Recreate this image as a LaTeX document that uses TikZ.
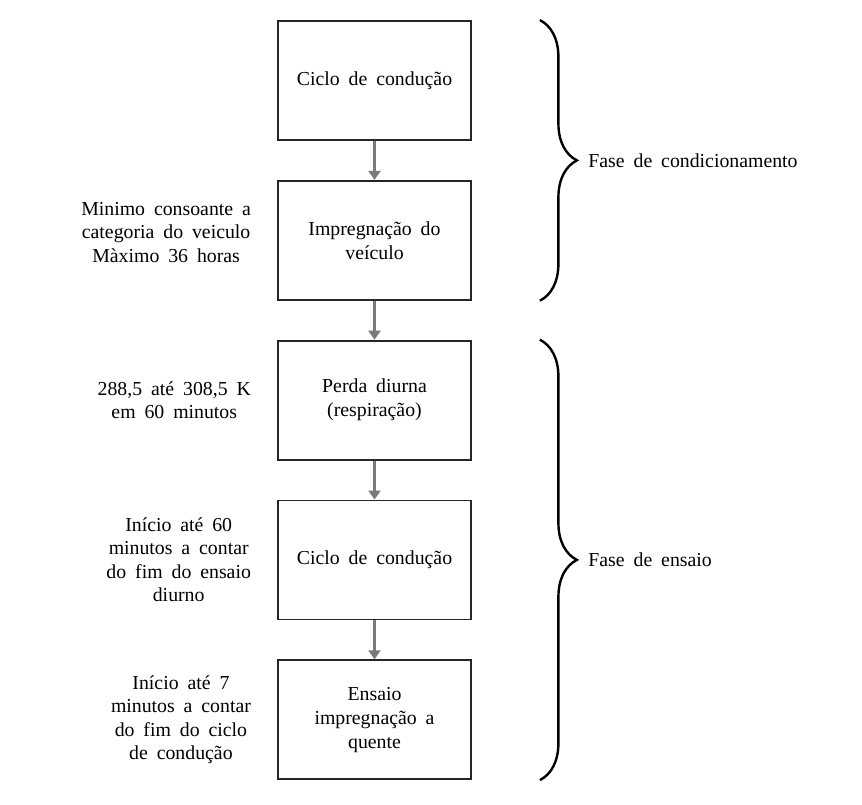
\documentclass[tikz,border=0pt]{standalone}
\usepackage{fontspec}
\setmainfont[WordSpace=1.8]{Liberation Serif}
\usetikzlibrary{arrows.meta,positioning,decorations.pathreplacing}
\definecolor{arrowgray}{HTML}{7A7A7A}
\definecolor{boxline}{HTML}{262626}

\begin{document}
\begin{tikzpicture}[
    x=1pt, y=-1pt,
    node distance=39pt and 26pt,
    stepbox/.style={
      draw=boxline,
      line width=1.8pt,
      minimum width=193pt,
      minimum height=119pt,
      align=center,
      font=\fontsize{19.8}{24}\selectfont
    },
    sidenote/.style={
      align=center,
      inner sep=0pt,
      font=\fontsize{19.8}{23.5}\selectfont
    },
    phase/.style={
      decorate,
      decoration={brace, amplitude=37pt},
      line width=2.4pt
    },
    arrow/.style={-{Triangle[length=9pt, width=12pt]}, line width=2.2pt, draw=arrowgray}
  ]
    \useasboundingbox (0,0) rectangle (862,805);

    \node[stepbox] at (374.5,80.5) (drive1) {Ciclo de condução};
    \node[stepbox, below=of drive1] (soak) {Impregnação do\\veículo};
    \node[stepbox, below=of soak] (diurnal) {Perda diurna\\(respiração)};
    \node[stepbox, below=of diurnal] (drive2) {Ciclo de condução};
    \node[stepbox, below=of drive2] (hotsoak) {Ensaio\\impregnação a\\quente};

    \node[sidenote, left=of soak, yshift=8pt] (soaknote)
      {Minimo consoante a\\categoria do veiculo\\Màximo 36 horas};
    \node[sidenote, left=of diurnal] (diurnalnote)
      {288,5 até 308,5 K\\em 60 minutos};
    \node[sidenote, left=of drive2] (drivenote)
      {Início até 60\\minutos a contar\\do fim do ensaio\\diurno};
    \node[sidenote, left=of hotsoak] (hotsoaknote)
      {Início até 7\\minutos a contar\\do fim do ciclo\\de condução};

    \draw[arrow] (drive1) -- (soak);
    \draw[arrow] (soak) -- (diurnal);
    \draw[arrow] (diurnal) -- (drive2);
    \draw[arrow] (drive2) -- (hotsoak);

    \draw[phase] ([xshift=68pt]drive1.north east) -- ([xshift=68pt]soak.south east)
      node[midway, anchor=west, xshift=44pt, font=\fontsize{19.8}{22}\selectfont] (condphase)
      {Fase de condicionamento};
    \draw[phase] ([xshift=68pt]diurnal.north east) -- ([xshift=68pt]hotsoak.south east)
      node[midway, anchor=west, xshift=44pt, font=\fontsize{19.8}{22}\selectfont] (testphase)
      {Fase de ensaio};
  \end{tikzpicture}
\end{document}
